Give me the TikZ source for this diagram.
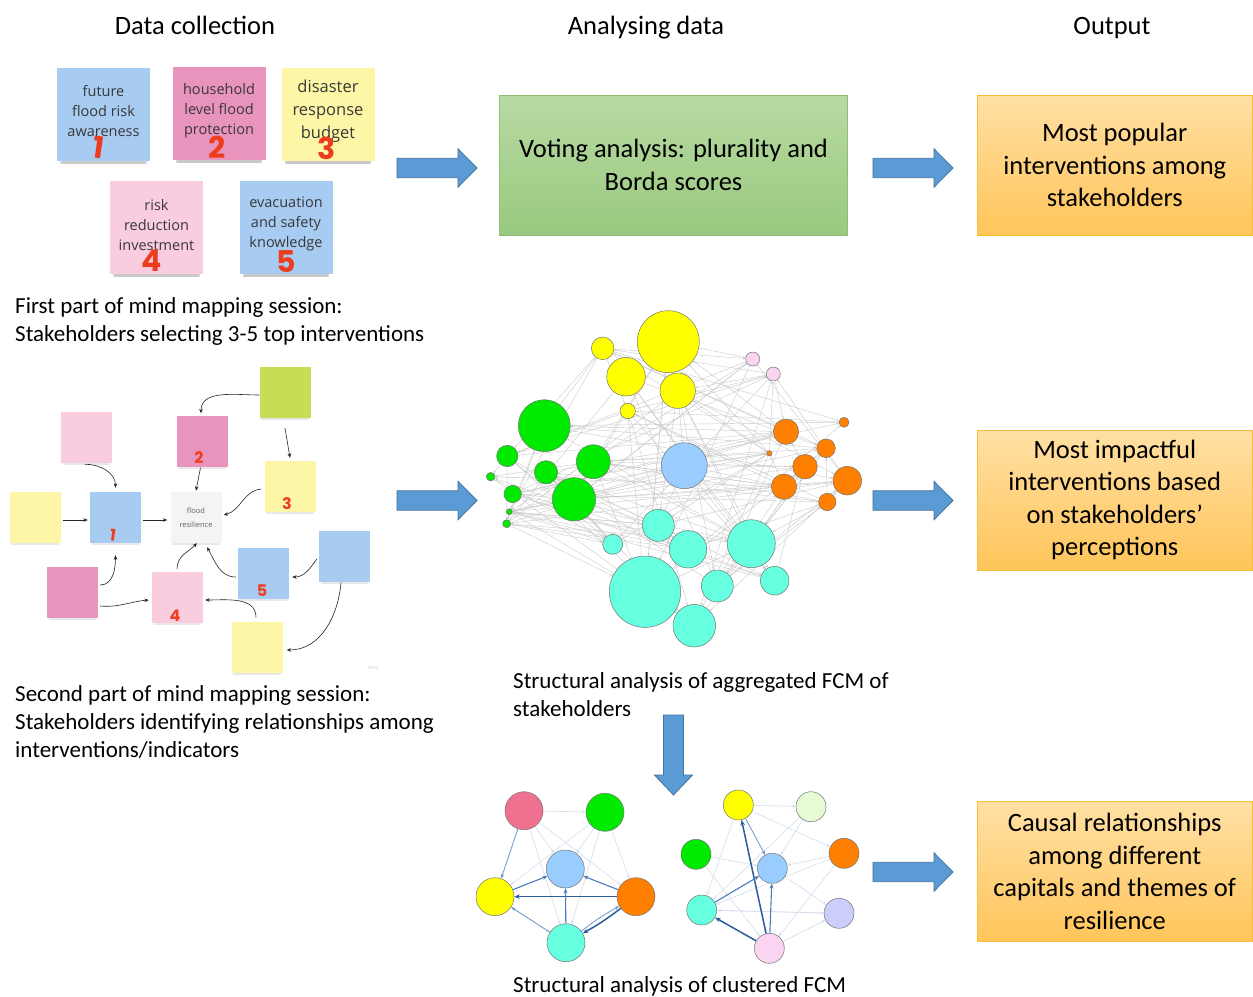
\documentclass[tikz,border=0pt]{standalone}
\usepackage{fontspec}
\setmainfont{Carlito}
\newfontfamily\notefont{Open Sans}
\newfontfamily\digitfont{Poppins}
\usetikzlibrary{arrows.meta,shadows}

% palette
\definecolor{noteblue}{HTML}{A8CBF2}
\definecolor{notepink}{HTML}{E894BC}
\definecolor{notepinkl}{HTML}{F9CCE0}
\definecolor{noteyellow}{HTML}{FCF6A6}
\definecolor{notegreen}{HTML}{C6DE55}
\definecolor{notewhite}{HTML}{F3F4F6}
\definecolor{marker}{HTML}{EE3D1E}
\definecolor{arrowfill}{HTML}{5B9BD5}
\definecolor{arrowline}{HTML}{41719C}
\definecolor{greentop}{HTML}{B8DAA3}
\definecolor{greenbot}{HTML}{99C97F}
\definecolor{greenline}{HTML}{8DBF72}
\definecolor{orangetop}{HTML}{FFE0A4}
\definecolor{orangebot}{HTML}{FFC55A}
\definecolor{orangeline}{HTML}{F4BE3A}
\definecolor{cY}{HTML}{FFFF00}
\definecolor{cG}{HTML}{00EA00}
\definecolor{cB}{HTML}{99CCFF}
\definecolor{cO}{HTML}{FF7F00}
\definecolor{cC}{HTML}{66FFE0}
\definecolor{cP}{HTML}{F9D5F2}
\definecolor{cR}{HTML}{F0718F}
\definecolor{cL}{HTML}{E6FAD5}
\definecolor{cV}{HTML}{CDCDFA}
\definecolor{netgrey}{HTML}{CACACA}
\definecolor{fcmfaint}{HTML}{D3DFEE}
\definecolor{fcmthin}{HTML}{6E96C9}
\definecolor{fcmmid}{HTML}{4C7DBB}
\definecolor{fcmthick}{HTML}{2C5D9C}

\pgfdeclarelayer{paper}
\pgfdeclarelayer{edges}
\pgfsetlayers{paper,edges,main}

% block arrows pointing right (left end x, centre y)
\newcommand{\rblock}[2]{%
  \draw[blockarrow] (#1,-#2) ++(0,9.7) -- ++(61,0) -- ++(0,9.5) -- ++(19,-19.2)
    -- ++(-19,-19.2) -- ++(0,9.5) -- ++(-61,0) -- cycle;}

\begin{document}
\begin{tikzpicture}[x=1pt,y=1pt,
  header/.style={font=\fontsize{26.5}{32}\selectfont, inner sep=0, anchor=base},
  capline/.style={font=\fontsize{23}{28}\selectfont, anchor=base west, inner sep=0},
  boxtext/.style={font=\fontsize{26.5}{32.5}\selectfont, align=center, inner sep=0},
  greenbox/.style={boxtext, draw=greenline, line width=0.9pt, top color=greentop,
    bottom color=greenbot, minimum width=348, minimum height=140},
  orangebox/.style={boxtext, draw=orangeline, line width=0.9pt, top color=orangetop,
    bottom color=orangebot, minimum width=275.5, minimum height=140},
  blockarrow/.style={fill=arrowfill, draw=arrowline, line width=0.8pt, line join=miter},
  note/.style={minimum size=93, inner sep=0,
    drop shadow={shadow xshift=0pt, shadow yshift=-9pt, opacity=.16, shadow scale=.9},
    drop shadow={shadow xshift=0pt, shadow yshift=-7pt, opacity=.3, shadow scale=.93}},
  mnote/.style={minimum size=51, inner sep=0,
    drop shadow={shadow xshift=0pt, shadow yshift=-4pt, opacity=.18, shadow scale=.94}},
  notetext/.style={font=\notefont\fontsize{14.5}{20}\selectfont, text=black!78,
    align=center, inner sep=0},
  digit/.style={font=\digitfont\bfseries\fontsize{30}{30}\selectfont, text=marker, inner sep=0},
  mdigit/.style={font=\digitfont\bfseries\fontsize{16}{16}\selectfont, text=marker, inner sep=0},
  mmarrow/.style={-{Stealth[length=4.5pt,width=3.6pt]}, line width=0.6pt, black!85},
  fcm/.style={circle, draw=black!55, line width=0.5pt, inner sep=0},
  netedge/.style={-{Stealth[length=2.6pt,width=2pt]}, draw=netgrey, line width=0.4pt},
  ffaint/.style={-{Stealth[length=4pt,width=3pt]}, draw=fcmfaint, line width=0.6pt},
  fthin/.style={-{Stealth[length=4.5pt,width=3.5pt]}, draw=fcmthin, line width=0.8pt},
  fmid/.style={-{Stealth[length=5pt,width=4pt]}, draw=fcmmid, line width=1.1pt},
  fthick/.style={-{Stealth[length=5.5pt,width=4.5pt]}, draw=fcmthick, line width=1.5pt}
]
\useasboundingbox (0,0) rectangle (1253,-996);
\begin{pgfonlayer}{paper}
\fill[white] (0,0) rectangle (1253,-996);
\end{pgfonlayer}

% column headings
\node[header] (h1) at (195,-34) {Data collection};
\node[header] (h2) at (646,-34) {Analysing data};
\node[header] (h3) at (1112,-34) {Output};

% ---- first session: five chosen sticky notes
\node[note, fill=noteblue]   (s1) at (103.5,-114.5) {};
\node[note, fill=notepink]   (s2) at (219,-113.5) {};
\node[note, fill=noteyellow] (s3) at (328,-114) {};
\node[note, fill=notepinkl]  (s4) at (156.5,-227) {};
\node[note, fill=noteblue]   (s5) at (286,-227) {};
\node[notetext] (t1) at (103.5,-111) {future\\flood risk\\awareness};
\node[notetext] (t2) at (219,-111) {household\\level flood\\protection};
\node[notetext, font=\notefont\fontsize{16.5}{23}\selectfont] (t3) at (328,-111.7) {disaster\\response\\budget};
\node[notetext] (t4) at (156.5,-225) {risk\\reduction\\investment};
\node[notetext] (t5) at (286,-224.3) {evacuation\\and safety\\knowledge};
\node[digit, rotate=-8] (d1) at (99,-147) {1};
\node[digit] (d2) at (217,-147) {2};
\node[digit] (d3) at (327,-148) {3};
\node[digit] (d4) at (152,-261) {4};
\node[digit] (d5) at (286,-262) {5};

\node[capline] (c1a) at (15,-313) {First part of mind mapping session:};
\node[capline] (c1b) at (15,-341) {Stakeholders selecting 3-5 top interventions};

% ---- second session: mind map of relationships
\node[mnote, fill=notegreen]  (mG)  at (285,-392.5) {};
\node[mnote, fill=notepinkl]  (mPL) at (86.5,-437.5) {};
\node[mnote, fill=notepink]   (m2)  at (202.5,-441) {};
\node[mnote, fill=noteyellow] (m3)  at (290,-486.5) {};
\node[mnote, fill=noteyellow] (mYL) at (35,-517.5) {};
\node[mnote, fill=noteblue]   (m1)  at (115.5,-517.5) {};
\node[mnote, fill=notewhite, font=\notefont\fontsize{7.5}{13.5}\selectfont, text=black!62, align=center]
  (mF) at (196,-517.5) {flood\\resilience};
\node[mnote, fill=noteblue]   (mBR) at (344.5,-556) {};
\node[mnote, fill=noteblue]   (m5)  at (263.5,-573.5) {};
\node[mnote, fill=notepink]   (mPD) at (72.5,-592.5) {};
\node[mnote, fill=notepinkl]  (m4)  at (177.5,-597.5) {};
\node[mnote, fill=noteyellow] (mYB) at (257,-647) {};
\node[mdigit, rotate=-8] (e1) at (113,-535) {1};
\node[mdigit] (e2) at (199,-458) {2};
\node[mdigit] (e3) at (287,-504) {3};
\node[mdigit] (e4) at (175,-616) {4};
\node[mdigit] (e5) at (262,-591) {5};
\node[font=\notefont\fontsize{5}{5}\selectfont, text=black!22, inner sep=0] (miro) at (373,-668) {miro};

\draw[mmarrow] ([yshift=-2.5pt]mG.west) to[out=180,in=90] ([xshift=-1.5pt,yshift=2pt]m2.north);
\draw[mmarrow] ([yshift=-10pt]mG.south) -- ([yshift=3pt]m3.north);
\draw[mmarrow] ([xshift=-2pt,yshift=-1pt]m2.south) -- ([yshift=1pt]mF.north);
\draw[mmarrow] ([xshift=-3pt,yshift=-2.5pt]m3.west) to[out=185,in=15] ([xshift=2pt,yshift=2.5pt]mF.east);
\draw[mmarrow] ([xshift=-1.5pt,yshift=-1pt]mPL.south) to[out=0,in=90] ([yshift=4pt]m1.north);
\draw[mmarrow] ([xshift=2pt,yshift=-2.5pt]mYL.east) -- ([xshift=-2pt,yshift=-2.5pt]m1.west);
\draw[mmarrow] ([xshift=2pt,yshift=-2.5pt]m1.east) -- ([xshift=-3pt,yshift=-2.5pt]mF.west);
\draw[mmarrow] ([xshift=2pt,yshift=7.5pt]mPD.east) to[out=0,in=270] ([yshift=-12pt]m1.south);
\draw[mmarrow] ([xshift=2pt,yshift=-13.5pt]mPD.east) to[out=-5,in=185] ([xshift=-3pt,yshift=-2.5pt]m4.west);
\draw[mmarrow] ([xshift=-0.5pt,yshift=3pt]m4.north) to[out=90,in=225] ([xshift=1pt]mF.south);
\draw[mmarrow] ([xshift=-2pt,yshift=-3.5pt]m5.west) to[out=180,in=300] ([xshift=11pt,yshift=-4pt]mF.south);
\draw[mmarrow] ([xshift=-2pt,yshift=-3pt]mBR.west) to[out=235,in=0] ([xshift=3pt,yshift=-3.5pt]m5.east);
\draw[mmarrow] ([xshift=-3.5pt,yshift=-1pt]mBR.south) to[out=265,in=0] ([xshift=4pt,yshift=-3pt]mYB.east);
\draw[mmarrow] ([xshift=-1pt,yshift=4pt]mYB.north) to[out=90,in=0] ([xshift=2pt,yshift=-2.5pt]m4.east);

\node[capline] (c2a) at (15,-701.5) {Second part of mind mapping session:};
\node[capline] (c2b) at (15,-729.5) {Stakeholders identifying relationships among};
\node[capline] (c2c) at (15,-757.5) {interventions/indicators};

% ---- analysis and output boxes
\node[greenbox] (vote) at (673.5,-165) {Voting analysis: plurality and\\Borda scores};
\node[orangebox] (o1) at (1114.75,-165) {Most popular\\interventions among\\stakeholders};
\node[orangebox] (o2) at (1114.75,-500) {Most impactful\\interventions based\\on stakeholders’\\perceptions};
\node[orangebox] (o3) at (1114.75,-871.5) {Causal relationships\\among different\\capitals and themes of\\resilience};

\rblock{397}{168}
\rblock{397}{500.5}
\rblock{873}{168}
\rblock{873}{500.5}
\rblock{873}{872}
\draw[blockarrow] (663.5,-715) -- (683.5,-715) -- (683.5,-775) -- (692.5,-775)
  -- (673.5,-795) -- (654.5,-775) -- (663.5,-775) -- cycle;

% ---- aggregated FCM network
\foreach \nm/\x/\y/\d/\c in {
  n1/668.3/341.7/62/cY, n2/602.7/348.3/22.6/cY, n3/626/376.7/38.6/cY, n4/677.7/390.7/35.4/cY,
  n5/627.7/411/15.4/cY, n6/752.7/359/14/cP, n7/773.3/374/14/cP,
  n8/544.3/425.7/52/cG, n9/507.3/456/21.4/cG, n10/546/472.3/23.4/cG, n11/593.3/461.7/34/cG,
  n12/574/499.3/43.4/cG, n13/490.7/476.7/8.6/cG, n14/512.7/494/17.4/cG, n15/509.3/511.7/6/cG,
  n16/506.7/523.7/8/cG, n17/684.3/465.7/46/cB,
  n18/786/431.7/25.4/cO, n19/844/422.3/10/cO, n20/826/448.3/18.6/cO, n21/769.3/453.3/5.4/cO,
  n22/805/466.7/24.6/cO, n23/847.3/480.7/28.6/cO, n24/784/486.7/25.4/cO, n25/827.3/502/17.4/cO,
  n26/658.3/525.3/32/cC, n27/612.7/544.3/20/cC, n28/688/549.3/37.4/cC, n29/751.3/543.7/48/cC,
  n30/645/591.7/71.4/cC, n31/717.3/586/32/cC, n32/774.7/580.7/28.6/cC, n33/694.3/625.7/42.6/cC}
  \node[fcm, fill=\c, minimum size=\d] (\nm) at (\x,-\y) {};

\pgfmathsetseed{11}
\begin{pgfonlayer}{edges}
\foreach \i in {1,...,33}{
  \foreach \j in {1,...,33}{
    \ifnum\i=\j\relax\else
      \pgfmathsetmacro\r{rnd}
      \ifdim\r pt<0.14pt \draw[netedge] (n\i) -- (n\j);\fi
    \fi}}
\end{pgfonlayer}

\node[capline] (c3a) at (513,-688.5) {Structural analysis of aggregated FCM of};
\node[capline] (c3b) at (513,-716) {stakeholders};

% ---- clustered FCMs
\node[fcm, fill=cR, minimum size=38] (L1) at (524,-810.7) {};
\node[fcm, fill=cG, minimum size=38] (L2) at (605,-812.3) {};
\node[fcm, fill=cB, minimum size=38] (L3) at (565.3,-869) {};
\node[fcm, fill=cY, minimum size=38] (L4) at (495,-896.7) {};
\node[fcm, fill=cO, minimum size=38] (L5) at (636,-896.7) {};
\node[fcm, fill=cC, minimum size=38] (L6) at (566,-942.7) {};

\node[fcm, fill=cY, minimum size=30] (R1) at (738.3,-805) {};
\node[fcm, fill=cL, minimum size=30] (R2) at (811,-806.7) {};
\node[fcm, fill=cG, minimum size=30] (R3) at (696,-854.3) {};
\node[fcm, fill=cO, minimum size=30] (R4) at (844,-853.3) {};
\node[fcm, fill=cB, minimum size=30] (R5) at (772.3,-868.3) {};
\node[fcm, fill=cC, minimum size=30] (R6) at (701.7,-910) {};
\node[fcm, fill=cV, minimum size=30] (R7) at (839,-913.3) {};
\node[fcm, fill=cP, minimum size=30] (R8) at (769.3,-948.3) {};

\begin{pgfonlayer}{edges}
\foreach \a/\b in {L1/L3, L1/L6, L1/L5, L1/L2, L2/L3, L2/L4, L2/L6, L2/L5, L4/L6, L3/L6}
  \draw[ffaint] (\a) -- (\b);
\foreach \a/\b in {R1/R6, R2/R6, R2/R5, R4/R5, R4/R6, R4/R8, R7/R6, R5/R7, R8/R7,
                   R1/R4, R3/R5, R1/R2, R6/R7, R3/R8, R1/R8}
  \draw[ffaint] (\a) -- (\b);
\end{pgfonlayer}

\draw[fthin]  (L1) -- (L4);
\draw[fmid]   (L4) -- (L3);
\draw[fmid]   (L5) -- (L3);
\draw[fthick] (L5) -- (L4);
\draw[fmid]   (L6) -- (L3);
\draw[fthick] (L5) to[bend left=4] (L6);
\draw[fthin]  (L6) to[bend left=4] (L5);
\draw[fthin]  (L6) -- (L4);

\draw[fthick] (R8) -- (R1);
\draw[fmid]   (R8) -- (R5);
\draw[fthick] (R8) -- (R6);
\draw[fmid]   (R6) -- (R5);
\draw[fthin]  (R1) -- (R5);

\node[capline] (c4) at (513,-992.5) {Structural analysis of clustered FCM};
\end{tikzpicture}
\end{document}
